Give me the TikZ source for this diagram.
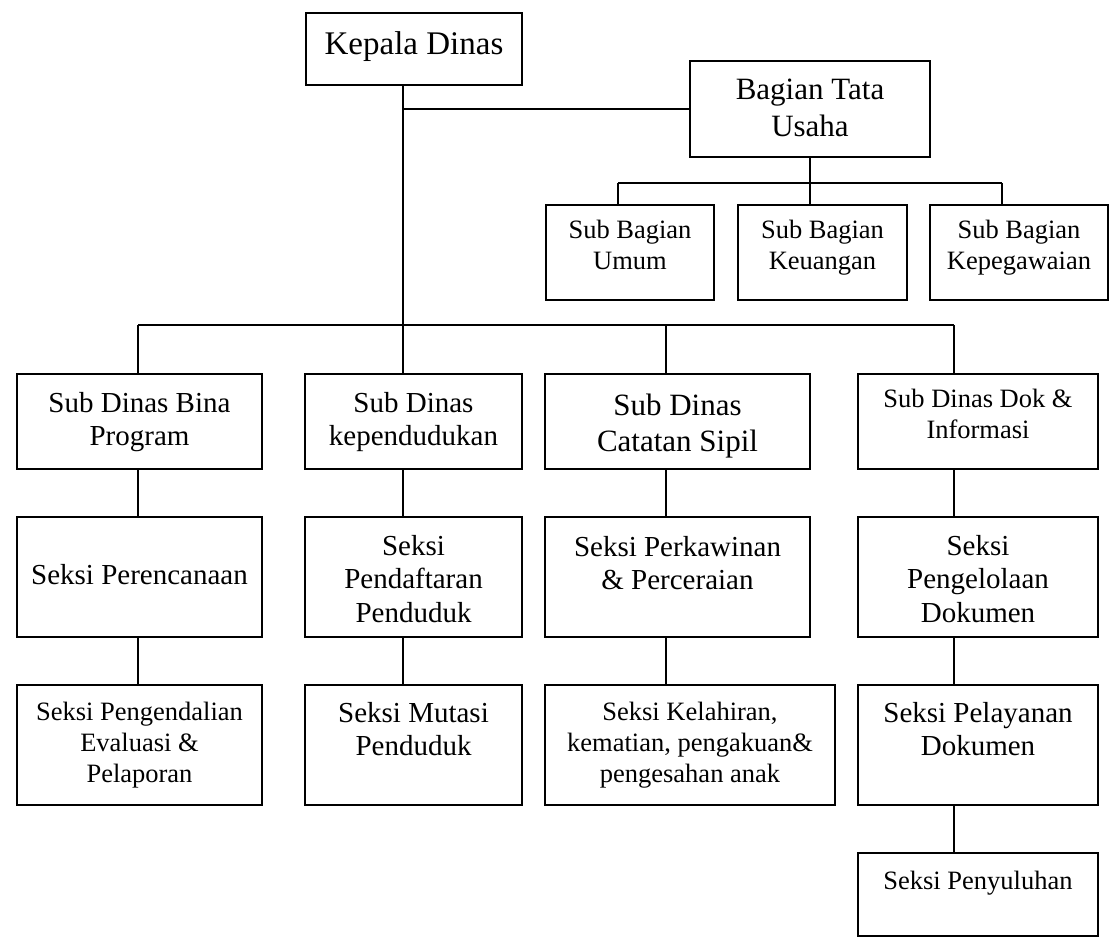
\documentclass[tikz,border=0pt]{standalone}
\usepackage{fontspec}
\setmainfont{Liberation Serif}
\usetikzlibrary{calc}

% font sizes used in the boxes (size / line pitch)
\newcommand\szHead{\fontsize{33}{38}\selectfont}
\newcommand\szBig{\fontsize{31}{37}\selectfont}
\newcommand\szCat{\fontsize{31}{36}\selectfont}
\newcommand\szMid{\fontsize{29}{33.5}\selectfont}
\newcommand\szSmall{\fontsize{26.5}{31}\selectfont}

% a framed unit: name, x1, y1, x2, y2, font, first baseline below top, text
\newcommand\orgunit[8]{%
  \node[unitbox, anchor=north west] (#1) at (#2,#3)
    {\parbox[c][\dimexpr#5pt-#3pt\relax][t]{\dimexpr#4pt-#2pt\relax}{%
      #6\centering\vspace*{\dimexpr#7pt-0.7\baselineskip\relax}\strut#8}};%
}

\tikzset{
  unitbox/.style={draw=black, line width=1.9pt, inner sep=0pt, outer sep=0pt, fill=white},
  link/.style={draw=black, line width=1.9pt}
}

\begin{document}
\begin{tikzpicture}[x=1pt, y=-1pt]
\useasboundingbox[fill=white] (0,0) rectangle (1110,941);

% head and secretariat
\orgunit{kd}{306}{13}{522}{85}{\szHead}{42}{Kepala Dinas}
\orgunit{btu}{690}{61}{930}{157}{\szBig}{39}{Bagian Tata\\Usaha}

% sub-sections of the secretariat
\orgunit{sb1}{546}{205}{714}{300}{\szSmall}{33}{Sub Bagian\\Umum}
\orgunit{sb2}{738}{205}{907}{300}{\szSmall}{33}{Sub Bagian\\Keuangan}
\orgunit{sb3}{930}{205}{1108}{300}{\szSmall}{33}{Sub Bagian\\Kepegawaian}

% sub-departments
\orgunit{sd1}{17}{374}{262}{469}{\szMid}{38}{Sub Dinas Bina\\Program}
\orgunit{sd2}{305}{374}{522}{469}{\szMid}{38}{Sub Dinas\\kependudukan}
\orgunit{sd3}{545}{374}{810}{469}{\szCat}{41}{Sub Dinas\\Catatan Sipil}
\orgunit{sd4}{858}{374}{1098}{469}{\szSmall}{33}{Sub Dinas Dok \&\\Informasi}

% first row of sections
\orgunit{sk1}{17}{517}{262}{637}{\szMid}{67}{Seksi Perencanaan}
\orgunit{sk2}{305}{517}{522}{637}{\szMid}{38}{Seksi\\Pendaftaran\\Penduduk}
\orgunit{sk3}{545}{517}{810}{637}{\szMid}{39}{Seksi Perkawinan\\\& Perceraian}
\orgunit{sk4}{858}{517}{1098}{637}{\szMid}{38}{Seksi\\Pengelolaan\\Dokumen}

% second row of sections
\orgunit{sp1}{17}{685}{262}{805}{\szSmall}{35}{Seksi Pengendalian\\Evaluasi \&\\Pelaporan}
\orgunit{sp2}{305}{685}{522}{805}{\szMid}{37}{Seksi Mutasi\\Penduduk}
\orgunit{sp3}{545}{685}{835}{805}{\szSmall}{35}{Seksi Kelahiran,\\kematian, pengakuan\&\\pengesahan anak}
\orgunit{sp4}{858}{685}{1098}{805}{\szMid}{37}{Seksi Pelayanan\\Dokumen}

% last section
\orgunit{sl4}{858}{853}{1098}{936}{\szSmall}{36}{Seksi Penyuluhan}

% junction points of the tree
\coordinate (jt) at (403,109);   % branch towards the secretariat
\coordinate (jm) at (403,325);   % main bar of the sub-departments
\coordinate (js) at (810,183);   % bar of the secretariat sub-sections
\coordinate (c1) at (138,325);
\coordinate (c3) at (666,325);
\coordinate (c4) at (954,325);
\coordinate (b1) at (618,183);
\coordinate (b3) at (1002,183);

% head to secretariat and to the main bar
\draw[link] (kd.south -| jt) -- (jm);
\draw[link] (jt) -- (jt -| btu.west);

% secretariat to its sub-sections
\draw[link] (btu.south) -- (js);
\draw[link] (b1) -- (b3);
\draw[link] (b1) -- (b1 |- sb1.north);
\draw[link] (js) -- (js |- sb2.north);
\draw[link] (b3) -- (b3 |- sb3.north);

% main bar and drops to the sub-departments
\draw[link] (c1) -- (c4);
\draw[link] (c1) -- (c1 |- sd1.north);
\draw[link] (jm) -- (jm |- sd2.north);
\draw[link] (c3) -- (c3 |- sd3.north);
\draw[link] (c4) -- (c4 |- sd4.north);

% columns down through the sections
\draw[link] (c1 |- sd1.south) -- (c1 |- sk1.north);
\draw[link] (c1 |- sk1.south) -- (c1 |- sp1.north);
\draw[link] (jm |- sd2.south) -- (jm |- sk2.north);
\draw[link] (jm |- sk2.south) -- (jm |- sp2.north);
\draw[link] (c3 |- sd3.south) -- (c3 |- sk3.north);
\draw[link] (c3 |- sk3.south) -- (c3 |- sp3.north);
\draw[link] (c4 |- sd4.south) -- (c4 |- sk4.north);
\draw[link] (c4 |- sk4.south) -- (c4 |- sp4.north);
\draw[link] (c4 |- sp4.south) -- (c4 |- sl4.north);
\end{tikzpicture}
\end{document}
